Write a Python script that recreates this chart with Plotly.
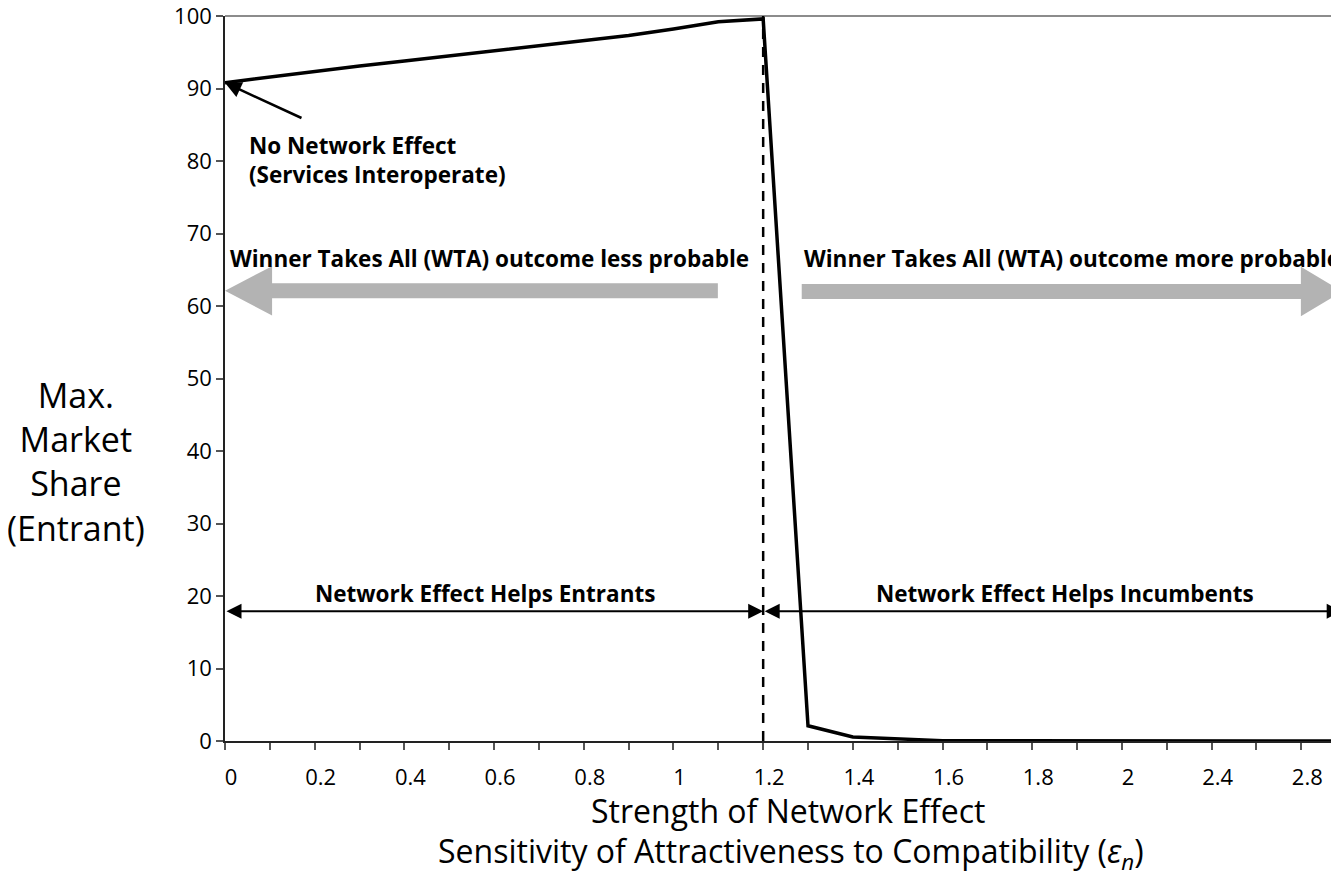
import plotly.graph_objects as go

# ---- data ----
categories = ["0", "0.1", "0.2", "0.3", "0.4", "0.5", "0.6", "0.7", "0.8", "0.9",
              "1", "1.1", "1.2", "1.3", "1.4", "1.5", "1.6", "1.7", "1.8", "1.9",
              "2", "2.2", "2.4", "2.6", "2.8", "3"]
max_share = [90.8, 91.6, 92.3, 93.1, 93.8, 94.5, 95.3, 96.0, 96.6, 97.3,
             98.2, 99.2, 99.6, 2.1, 0.55, 0.25, 0.05, 0.02, 0, 0,
             0, 0, 0, 0, 0, 0]
tick_labels = ["0", "", "0.2", "", "0.4", "", "0.6", "", "0.8", "",
               "1", "", "1.2", "", "1.4", "", "1.6", "", "1.8", "",
               "2", "", "2.4", "", "2.8", ""]
y_ticks = [0, 10, 20, 30, 40, 50, 60, 70, 80, 90, 100]
threshold = "1.2"

FONT = "Open Sans"
XR = [0, 24.84]
PLOT_W = 1114.0
PLOT_H = 725.0


def xp(i):
    return (i - XR[0]) / (XR[1] - XR[0])


def cat_index(c):
    return categories.index(c)


fig = go.Figure()
fig.add_trace(go.Scatter(
    x=categories, y=max_share, mode="lines",
    line=dict(color="black", width=3.5),
    cliponaxis=False, showlegend=False, hoverinfo="skip",
))

ti = cat_index(threshold)
i0 = cat_index(categories[0])
shapes = []
# plot-area top border
shapes.append(dict(type="line", xref="paper", yref="paper", x0=0, x1=1, y0=1, y1=1,
                   line=dict(color="#8c8c8c", width=2)))
# dashed threshold line
shapes.append(dict(type="line", xref="paper", yref="y", x0=xp(ti), x1=xp(ti), y0=0, y1=100,
                   line=dict(color="black", width=2.5, dash="10px,8px")))


def block_arrow(x_tail, x_base, x_tip, yc, shaft=1.03, head=3.4):
    pts = [(x_tip, yc), (x_base, yc + head), (x_base, yc + shaft), (x_tail, yc + shaft),
           (x_tail, yc - shaft), (x_base, yc - shaft), (x_base, yc - head)]
    path = "M " + " L ".join(f"{xp(a):.5f},{b:.3f}" for a, b in pts) + " Z"
    return dict(type="path", xref="paper", yref="y", path=path,
                fillcolor="#b3b3b3", line=dict(width=0))


shapes.append(block_arrow(10.99, 1.05, 0.0, 62.1))
shapes.append(block_arrow(12.86, 23.99, 24.92, 62.0))

annotations = []
bold = dict(family=FONT, size=22.5, color="black")
annotations.append(dict(text="<b>No Network Effect<br>(Services Interoperate)</b>",
                        xref="paper", yref="y", x=xp(0.5), y=80.1, xanchor="left",
                        yanchor="middle", align="left", showarrow=False, font=bold))
annotations.append(dict(text="", xref="x", yref="y", x=i0, y=max_share[0],
                        ax=78, ay=36, showarrow=True, arrowhead=2, arrowsize=1.3,
                        arrowwidth=2.5, arrowcolor="black", standoff=0))
annotations.append(dict(text="<b>Winner Takes All (WTA) outcome less probable</b>",
                        xref="paper", yref="y", x=xp(0.06), y=66.6, xanchor="left",
                        yanchor="middle", showarrow=False, font=bold))
annotations.append(dict(text="<b>Winner Takes All (WTA) outcome more probable</b>",
                        xref="paper", yref="y", x=xp(12.86), y=66.5, xanchor="left",
                        yanchor="middle", showarrow=False, font=bold))
annotations.append(dict(text="<b>Network Effect Helps Entrants</b>",
                        xref="paper", yref="y", x=xp(5.8), y=20.3, xanchor="center",
                        yanchor="middle", showarrow=False, font=bold))
annotations.append(dict(text="<b>Network Effect Helps Incumbents</b>",
                        xref="paper", yref="y", x=xp(18.73), y=20.3, xanchor="center",
                        yanchor="middle", showarrow=False, font=bold))
# double arrows
annotations.append(dict(text="", xref="x", yref="y", x=ti, y=17.9,
                        axref="x", ayref="y", ax=i0, ay=17.9,
                        showarrow=True, arrowside="end+start", arrowhead=2, startarrowhead=2,
                        arrowsize=1.5, startarrowsize=1.5, arrowwidth=2, arrowcolor="black",
                        standoff=0, startstandoff=0))
annotations.append(dict(text="", xref="x", yref="y", x=24.9, y=17.9,
                        axref="x", ayref="y", ax=ti, ay=17.9,
                        showarrow=True, arrowside="end+start", arrowhead=2, startarrowhead=2,
                        arrowsize=1.5, startarrowsize=1.5, arrowwidth=2, arrowcolor="black",
                        standoff=0, startstandoff=0))
# axis titles (positions relative to plot area, in pixels)
title_font = dict(family=FONT, size=32, color="black")
annotations.append(dict(text="Strength of Network Effect", xref="paper", yref="paper",
                        x=563 / PLOT_W, y=-69 / PLOT_H, xanchor="center",
                        yanchor="middle", showarrow=False, font=title_font))
annotations.append(dict(text="Sensitivity of Attractiveness to Compatibility (<i>ε</i><sub><i>n</i></sub>)",
                        xref="paper", yref="paper",
                        x=566 / PLOT_W, y=-112 / PLOT_H, xanchor="center",
                        yanchor="middle", showarrow=False, font=title_font))
annotations.append(dict(text="Max.<br>Market<br>Share<br>(Entrant)", xref="paper", yref="paper",
                        x=-149 / PLOT_W, y=(739 - 460) / PLOT_H, xanchor="center",
                        yanchor="middle", align="center", showarrow=False,
                        font=dict(family=FONT, size=34, color="black")))

fig.update_layout(
    width=1339, height=876,
    margin=dict(l=217, r=8, t=8, b=143),
    paper_bgcolor="white", plot_bgcolor="white",
    font=dict(family=FONT, color="black"),
    shapes=shapes, annotations=annotations,
    showlegend=False,
)
fig.update_xaxes(
    type="category", range=XR, tickmode="array", tickvals=categories, ticktext=tick_labels,
    showgrid=False, zeroline=False, showline=True, linecolor="#222222", linewidth=1.5,
    ticks="outside", ticklen=7, tickwidth=1.5, tickcolor="#555555",
    tickfont=dict(family=FONT, size=22, color="black"), ticklabelshift=6,
    ticklabelstandoff=9, ticklabeloverflow="allow", automargin=False,
)
fig.update_yaxes(
    range=[0, 100], tickmode="array", tickvals=y_ticks,
    showgrid=False, zeroline=False, showline=True, linecolor="#222222", linewidth=1.5,
    ticks="outside", ticklen=7, tickwidth=1.5, tickcolor="#555555",
    tickfont=dict(family=FONT, size=22, color="black"), ticklabeloverflow="allow",
    automargin=False,
)

fig.write_html("out.html")
